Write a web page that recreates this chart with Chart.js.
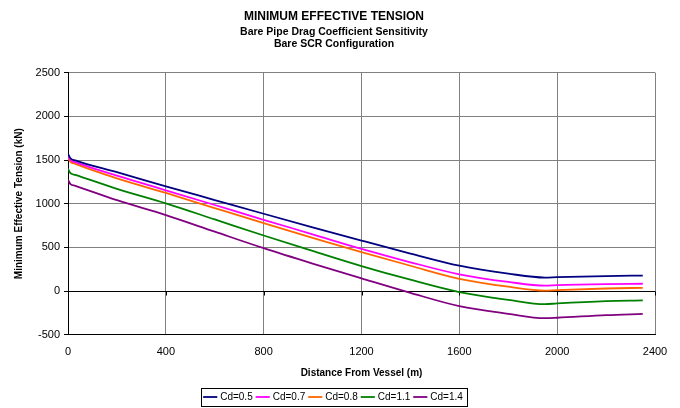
<!DOCTYPE html>
<html>
<head>
<meta charset="utf-8">
<script src="https://cdn.jsdelivr.net/npm/chart.js@4.4.1/dist/chart.umd.min.js"></script>
<style>
  html, body { margin: 0; padding: 0; background: #fff; }
  #wrap { width: 680px; height: 408px; }
</style>
</head>
<body>
<div id="wrap"><canvas id="myChart" width="680" height="408"></canvas></div>
<script>
// distancia desde el buque (m)
const distancias = [0, 10, 30, 200, 400, 600, 800, 1000, 1200, 1400, 1600, 1800, 1950, 2000, 2200, 2350];

// tension efectiva minima (kN) por coeficiente de arrastre
const cd05 = [1570, 1520, 1495, 1360, 1199, 1042, 885, 730, 578, 430, 291, 200, 155, 160, 172, 178];
const cd07 = [1550, 1500, 1475, 1320, 1153, 985, 816, 650, 483, 330, 192, 105, 62, 68, 80, 84];
const cd08 = [1525, 1480, 1455, 1290, 1123, 950, 778, 610, 445, 290, 141, 50, 5, 11, 30, 38];
const cd11 = [1400, 1350, 1330, 1170, 1004, 820, 636, 460, 287, 130, -11, -100, -150, -141, -115, -107];
const cd14 = [1275, 1225, 1205, 1040, 870, 680, 491, 315, 146, -20, -172, -260, -310, -305, -275, -261];

const series = [
  { label: 'Cd=0.5', data: cd05, color: '#000080' },
  { label: 'Cd=0.7', data: cd07, color: '#FF00FF' },
  { label: 'Cd=0.8', data: cd08, color: '#FF6600' },
  { label: 'Cd=1.1', data: cd11, color: '#008000' },
  { label: 'Cd=1.4', data: cd14, color: '#800080' }
];

const fuente = "'Liberation Sans', Arial, sans-serif";

// linea del eje en cero con sus marcas (estilo Excel)
const ejeCero = {
  id: 'ejeCero',
  beforeDatasetsDraw(chart) {
    const { ctx, chartArea, scales } = chart;
    const y0 = Math.round(scales.y.getPixelForValue(0)) + 0.5;
    ctx.save();
    ctx.strokeStyle = '#000';
    ctx.lineWidth = 1;
    ctx.beginPath();
    ctx.moveTo(chartArea.left, y0);
    ctx.lineTo(chartArea.right, y0);
    scales.x.ticks.forEach((t) => {
      const x = Math.round(scales.x.getPixelForValue(t.value)) + 0.5;
      ctx.moveTo(x, y0);
      ctx.lineTo(x, y0 + 4);
    });
    ctx.stroke();
    ctx.restore();
  }
};

// borde alrededor de la leyenda
const bordeLeyenda = {
  id: 'bordeLeyenda',
  afterDraw(chart) {
    const boxes = chart.legend.legendHitBoxes;
    if (!boxes || !boxes.length) return;
    const left = Math.min(...boxes.map((b) => b.left)) - 4;
    const right = Math.max(...boxes.map((b) => b.left + b.width)) + 4;
    const top = Math.min(...boxes.map((b) => b.top)) - 4;
    const bottom = Math.max(...boxes.map((b) => b.top + b.height)) + 4;
    const ctx = chart.ctx;
    ctx.save();
    ctx.strokeStyle = '#000';
    ctx.lineWidth = 1;
    ctx.strokeRect(Math.round(left) + 0.5, Math.round(top) + 0.5, Math.round(right - left), Math.round(bottom - top));
    ctx.restore();
  }
};

const sinComas = (v) => String(v);

const ctx = document.getElementById('myChart');
new Chart(ctx, {
  type: 'line',
  data: {
    labels: distancias,
    datasets: series.map((s) => ({
      label: s.label,
      data: s.data.map((v, i) => ({ x: distancias[i], y: v })),
      borderColor: s.color,
      backgroundColor: s.color,
      borderWidth: 1.8,
      pointRadius: 0,
      cubicInterpolationMode: 'monotone',
      fill: false
    }))
  },
  options: {
    responsive: false,
    animation: false,
    layout: { padding: { left: 13, right: 25, top: 5, bottom: -4 } },
    plugins: {
      title: {
        display: true,
        text: 'MINIMUM EFFECTIVE TENSION',
        color: '#000',
        font: { family: fuente, size: 12, weight: 'bold' },
        padding: { top: 4, bottom: 2 }
      },
      subtitle: {
        display: true,
        text: ['Bare Pipe Drag Coefficient Sensitivity', 'Bare SCR Configuration'],
        color: '#000',
        font: { family: fuente, size: 10.5, weight: 'bold', lineHeight: 1.2 },
        padding: { top: 0, bottom: 22 }
      },
      legend: {
        position: 'bottom',
        labels: {
          color: '#000',
          font: { family: fuente, size: 10 },
          usePointStyle: true,
          pointStyle: 'line',
          boxWidth: 22,
          padding: 5
        }
      },
      tooltip: { enabled: false }
    },
    scales: {
      x: {
        type: 'linear',
        min: 0,
        max: 2400,
        ticks: {
          stepSize: 400,
          color: '#000',
          font: { family: fuente, size: 11 },
          padding: 11,
          callback: sinComas
        },
        grid: { color: '#808080', drawTicks: false },
        border: { color: '#000' },
        title: {
          display: true,
          text: 'Distance From Vessel (m)',
          color: '#000',
          font: { family: fuente, size: 10, weight: 'bold' },
          padding: { top: -3, bottom: 8 }
        }
      },
      y: {
        min: -500,
        max: 2500,
        ticks: {
          stepSize: 500,
          color: '#000',
          font: { family: fuente, size: 11 },
          padding: 4,
          callback: sinComas
        },
        grid: { color: '#808080', tickColor: '#000', tickLength: 4 },
        border: { color: '#000' },
        title: {
          display: true,
          text: 'Minimum Effective Tension (kN)',
          color: '#000',
          font: { family: fuente, size: 10, weight: 'bold' },
          padding: { top: 0, bottom: 6 }
        },
        afterFit(scale) { scale.width = 55; }
      }
    }
  },
  plugins: [ejeCero, bordeLeyenda]
});
</script>
</body>
</html>
